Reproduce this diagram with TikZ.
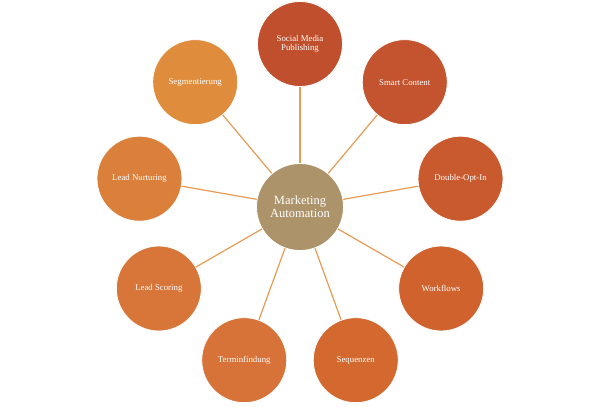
\documentclass[tikz,border=0pt]{standalone}
\usepackage{fontspec}
\setmainfont{Liberation Serif}
\usetikzlibrary{calc}
\definecolor{cA}{HTML}{C0502D}
\definecolor{cB}{HTML}{C4542F}
\definecolor{cC}{HTML}{C95A2E}
\definecolor{cD}{HTML}{D0622E}
\definecolor{cE}{HTML}{D4692F}
\definecolor{cF}{HTML}{D77238}
\definecolor{cG}{HTML}{D8763A}
\definecolor{cH}{HTML}{DB803B}
\definecolor{cI}{HTML}{DF8D3C}
\definecolor{cCenter}{HTML}{AD936A}
\definecolor{lineC}{HTML}{E79B55}
\tikzset{
  outer/.style={circle, draw=white, line width=0.8pt, minimum size=85pt, inner sep=0pt,
    text=white, font=\fontsize{8.8}{9}\selectfont, align=center},
  hub/.style={circle, draw=white, line width=0.8pt, fill=cCenter, minimum size=87pt, inner sep=0pt,
    text=white, font=\fontsize{12.5}{13}\selectfont, align=center},
  spoke/.style={draw=lineC, line width=1.2pt}
}
\begin{document}
\begin{tikzpicture}[x=1pt,y=1pt]
\useasboundingbox (0,0) rectangle (600,407);
\coordinate (c) at (300,200);
\node[hub] (m) at (c) {Marketing\\Automation};
\node[outer, fill=cA] (n1) at ($(c)+(90:163)$) {Social Media\\Publishing};
\node[outer, fill=cB] (n2) at ($(c)+(50:163)$) {Smart Content};
\node[outer, fill=cC] (n3) at ($(c)+(10:163)$) {Double-Opt-In};
\node[outer, fill=cD] (n4) at ($(c)+(-30:163)$) {Workflows};
\node[outer, fill=cE] (n5) at ($(c)+(-70:163)$) {Sequenzen};
\node[outer, fill=cF] (n6) at ($(c)+(-110:163)$) {Terminfindung};
\node[outer, fill=cG] (n7) at ($(c)+(-150:163)$) {Lead Scoring};
\node[outer, fill=cH] (n8) at ($(c)+(170:163)$) {Lead Nurturing};
\node[outer, fill=cI] (n9) at ($(c)+(130:163)$) {Segmentierung};
\foreach \i in {1,...,9} {\draw[spoke] (m) -- (n\i);}
\end{tikzpicture}
\end{document}
